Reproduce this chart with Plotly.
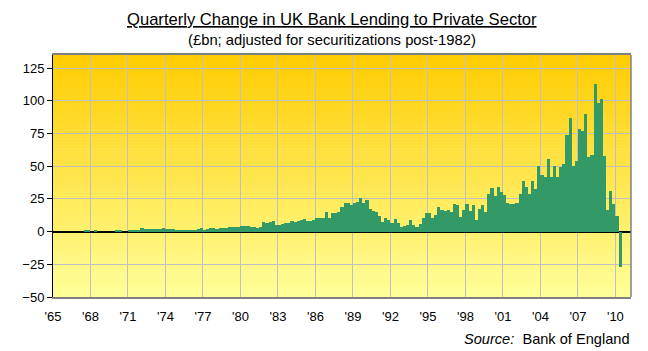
import plotly.graph_objects as go

# Quarterly change in UK bank lending (GBP bn), 1965Q1 .. 2010Q2
start_year = 1965
values = [
    0, 0, 0, 0,            # 1965
    0, 0, 0, 0,            # 1966
    0, 0, 1, 1,            # 1967
    0, 1, 0, 0,            # 1968
    0, 0, 0, 0,            # 1969
    1, 1, 0, 0,            # 1970
    0.7, 1, 1, 1.5,        # 1971
    2.5, 1.7, 1.7, 1.7,    # 1972
    1.7, 1.7, 1.7, 2.5,    # 1973
    1.7, 1.7, 1.7, 1,      # 1974
    0.7, 1, 0.7, 1.5,      # 1975
    1.5, 1.5, 2.2, 2.5,    # 1976
    1, 1.8, 2.6, 2.6,      # 1977
    1.8, 2.6, 2.6, 2.6,    # 1978
    3.3, 3.3, 3.3, 3.3,    # 1979
    4.1, 4.1, 4.1, 3.3,    # 1980
    3.3, 2.6, 3.5, 7.1,    # 1981
    6.8, 7.5, 7.9, 4.8,    # 1982
    4.8, 5.6, 6.4, 6.2,    # 1983
    7.9, 7.1, 7.9, 8.7,    # 1984
    9.4, 8.2, 7.9, 8.7,    # 1985
    10.2, 10.2, 10.2, 14.8,  # 1986
    10.2, 14, 14, 14.8,    # 1987
    18.6, 21.7, 21.7, 20.2,  # 1988
    21.7, 23, 25.5, 21.7,  # 1989
    24, 17.1, 15.6, 15,    # 1990
    11.7, 7.1, 10.2, 8.7,  # 1991
    6.4, 9.4, 6.4, 3.3,    # 1992
    4.1, 4.8, 8.6, 4.8,    # 1993
    3.3, 6, 10.2, 14,      # 1994
    14, 10.2, 13, 18.6,    # 1995
    16.3, 15.5, 16.3, 14.8,  # 1996
    20.9, 20, 10.9, 16.3,  # 1997
    20.9, 15.5, 20, 8.6,   # 1998
    17, 20.1, 14.8, 28.6,  # 1999
    33.2, 27, 33.9, 30,    # 2000
    28, 22, 20.9, 20.9,    # 2001
    21.7, 28.6, 38.5, 33.9,  # 2002
    28.6, 38.5, 32.4, 50,  # 2003
    43.1, 41.6, 55.4, 41.6,  # 2004
    50, 41.6, 49.7, 51.5,  # 2005
    73.5, 86.5, 50, 53.8,  # 2006
    78.3, 76.7, 89.8, 56.9,  # 2007
    58.4, 112.8, 98, 101.3,  # 2008
    57.6, 16.3, 30.9, 20.9,  # 2009
    12.3, -27,             # 2010
]
quarter_x = [start_year + i * 0.25 + 0.125 for i in range(len(values))]

tick_years = list(range(1965, 2011, 3))
tick_labels = ["'%02d" % (y % 100) for y in tick_years]
y_ticks = [-50, -25, 0, 25, 50, 75, 100, 125]

title_text = "<u>Quarterly Change in UK Bank Lending to Private Sector</u>"
subtitle_text = "(£bn; adjusted for securitizations post-1982)"
source_text = "<i>Source:</i>  Bank of England"

FONT = "Liberation Sans, Arial, sans-serif"

fig = go.Figure()
fig.add_trace(go.Bar(
    x=quarter_x, y=values, width=0.25,
    marker=dict(color="#339966", line=dict(width=0)),
    hoverinfo="x+y",
))

# gradient background (orange top -> pale yellow bottom)
shapes = []
n = 80
top = (255, 204, 0)
bot = (255, 255, 153)
for i in range(n):
    f = (i + 0.5) / n
    c = tuple(int(round(top[k] + (bot[k] - top[k]) * f)) for k in range(3))
    shapes.append(dict(type="rect", xref="x domain", yref="y domain",
                       x0=0, x1=1, y0=1 - (i + 1) / n, y1=1 - i / n + 0.002,
                       fillcolor="rgb(%d,%d,%d)" % c, line=dict(width=0),
                       layer="below"))
# right border
shapes.append(dict(type="line", xref="x domain", yref="y domain",
                   x0=1, x1=1, y0=0, y1=1, line=dict(color="#808080", width=1.5),
                   layer="above"))

fig.update_layout(
    width=648, height=351,
    margin=dict(l=53, r=17, t=55, b=54),
    paper_bgcolor="white",
    plot_bgcolor="rgba(0,0,0,0)",
    showlegend=False,
    bargap=0,
    font=dict(family=FONT, size=13, color="black"),
    shapes=shapes,
    xaxis=dict(
        range=[1965, 2011.25],
        tickmode="array", tickvals=tick_years, ticktext=tick_labels,
        showgrid=True, gridcolor="#C0C0C0", gridwidth=1,
        showline=True, linecolor="#808080", linewidth=1.5, mirror=True,
        ticks="outside", ticklen=7, tickcolor="rgba(0,0,0,0)",
        tickfont=dict(family=FONT, size=13, color="black"),
        zeroline=False, fixedrange=True,
    ),
    yaxis=dict(
        range=[-50, 135],
        tickmode="array", tickvals=y_ticks,
        showgrid=True, gridcolor="#C0C0C0", gridwidth=1,
        showline=True, linecolor="black", linewidth=1,
        ticks="outside", ticklen=5, tickcolor="black", tickwidth=1,
        tickfont=dict(family=FONT, size=13, color="black"),
        zeroline=True, zerolinecolor="black", zerolinewidth=1.5,
        fixedrange=True,
    ),
    annotations=[
        dict(text=title_text, xref="paper", yref="paper",
             x=(332 - 53) / 578, y=(297 - 19) / 242, xanchor="center", yanchor="middle",
             showarrow=False, font=dict(family=FONT, size=16.6, color="black")),
        dict(text=subtitle_text, xref="paper", yref="paper",
             x=(332 - 53) / 578, y=(297 - 40) / 242, xanchor="center", yanchor="middle",
             showarrow=False, font=dict(family=FONT, size=14.8, color="black")),
        dict(text=source_text, xref="paper", yref="paper",
             x=(632 - 53) / 578, y=(297 - 339) / 242, xanchor="right", yanchor="middle",
             showarrow=False, font=dict(family=FONT, size=14.6, color="black")),
    ],
)

fig.write_html("out.html")
